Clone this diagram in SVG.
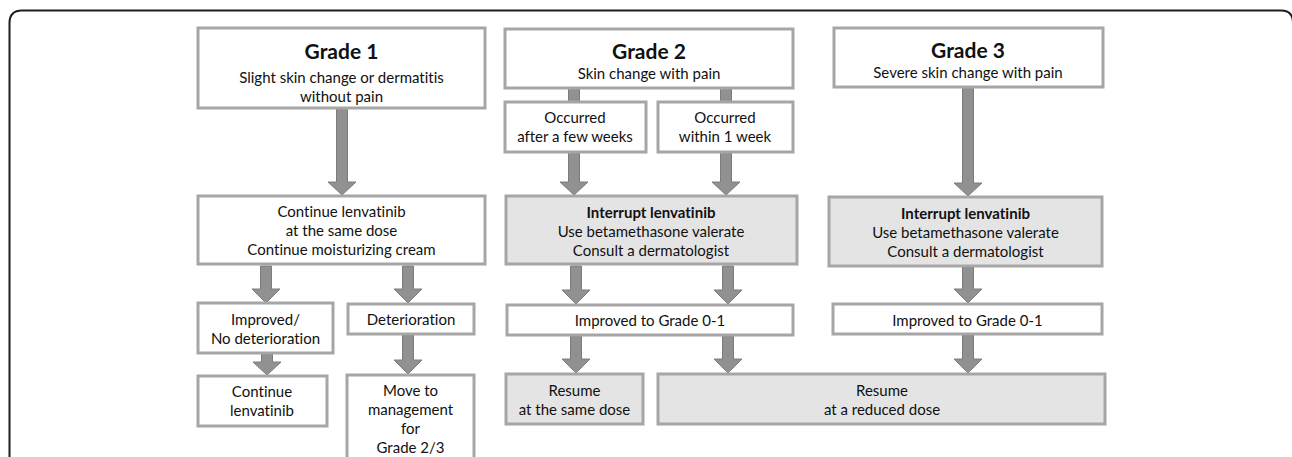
<svg xmlns="http://www.w3.org/2000/svg" width="1292" height="457" viewBox="0 0 1292 457">
<style>
.frame{fill:none;stroke:#1e1e1e;stroke-width:2}
.box{fill:#ffffff;stroke:#a6a6a6;stroke-width:3}
.gbox{fill:#e4e4e4;stroke:#a6a6a6;stroke-width:3}
.arr{fill:#919191;stroke:#7c7c7c;stroke-width:1}
text{font-family:Lato,"Liberation Sans",sans-serif;fill:#111;text-anchor:middle;dominant-baseline:central;font-variant-ligatures:none;font-feature-settings:"liga" 0}
.t{font-size:15px}
.h{font-size:21px;font-weight:bold}
.b{font-size:15px;font-weight:bold}
</style>
<rect width="1292" height="457" fill="#ffffff"/>
<path class="frame" d="M9.5 457 L9.5 23 Q9.5 10.5 22 10.5 L1281 10.5 Q1293 10.5 1293 23 L1293 457"/>

<g id="connectors">
<polygon class="arr" points="336.5,108 347.5,108 347.5,182 356,182 342,195 328,182 336.5,182"/>
<rect class="arr" x="568.5" y="88" width="11" height="14"/>
<rect class="arr" x="720.5" y="88" width="11" height="14"/>
<polygon class="arr" points="568.5,152 579.5,152 579.5,182 588,182 574,195 560,182 568.5,182"/>
<polygon class="arr" points="720.5,152 731.5,152 731.5,182 740,182 726,195 712,182 720.5,182"/>
<polygon class="arr" points="962.5,87 973.5,87 973.5,183 982,183 968,196 954,183 962.5,183"/>
<polygon class="arr" points="260.5,266 271.5,266 271.5,289 280,289 266,303 252,289 260.5,289"/>
<polygon class="arr" points="402.5,266 413.5,266 413.5,289 422,289 408,303 394,289 402.5,289"/>
<polygon class="arr" points="261.5,354 272.5,354 272.5,362 281,362 267,375 253,362 261.5,362"/>
<polygon class="arr" points="402.5,335 413.5,335 413.5,360 422,360 408,374 394,360 402.5,360"/>
<polygon class="arr" points="570.5,266 581.5,266 581.5,290 590,290 576,304 562,290 570.5,290"/>
<polygon class="arr" points="722.5,266 733.5,266 733.5,290 742,290 728,304 714,290 722.5,290"/>
<polygon class="arr" points="570.5,336 581.5,336 581.5,359 590,359 576,373 562,359 570.5,359"/>
<polygon class="arr" points="722.5,336 733.5,336 733.5,359 742,359 728,373 714,359 722.5,359"/>
<polygon class="arr" points="962.5,267 973.5,267 973.5,289 982,289 968,303 954,289 962.5,289"/>
<polygon class="arr" points="962.5,335 973.5,335 973.5,359 982,359 968,373 954,359 962.5,359"/>
</g>

<g id="grade1">
<rect class="box" x="198" y="28" width="287" height="80"/>
<text class="h" x="341.5" y="50">Grade 1</text>
<text class="t" x="341.5" y="77">Slight skin change or dermatitis</text>
<text class="t" x="341.5" y="96">without pain</text>
</g>
<g id="grade2">
<rect class="box" x="505" y="29" width="288" height="59"/>
<text class="h" x="649" y="50">Grade 2</text>
<text class="t" x="649" y="73">Skin change with pain</text>
</g>
<g id="grade3">
<rect class="box" x="834" y="28" width="269" height="59"/>
<text class="h" x="968" y="49">Grade 3</text>
<text class="t" x="968" y="72">Severe skin change with pain</text>
</g>
<g id="occ-weeks">
<rect class="box" x="505" y="102" width="141" height="50"/>
<text class="t" x="575" y="117">Occurred</text>
<text class="t" x="575" y="136">after a few weeks</text>
</g>
<g id="occ-week">
<rect class="box" x="658" y="102" width="135" height="50"/>
<text class="t" x="725" y="117">Occurred</text>
<text class="t" x="725" y="136">within 1 week</text>
</g>
<g id="continue-same">
<rect class="box" x="198" y="196" width="287" height="68"/>
<text class="t" x="341.5" y="211">Continue lenvatinib</text>
<text class="t" x="341.5" y="230">at the same dose</text>
<text class="t" x="341.5" y="249">Continue moisturizing cream</text>
</g>
<g id="interrupt2">
<rect class="gbox" x="506" y="196" width="291" height="68"/>
<text class="b" x="651" y="212">Interrupt lenvatinib</text>
<text class="t" x="651" y="231">Use betamethasone valerate</text>
<text class="t" x="651" y="250">Consult a dermatologist</text>
</g>
<g id="interrupt3">
<rect class="gbox" x="829" y="197" width="273" height="69"/>
<text class="b" x="965.5" y="213">Interrupt lenvatinib</text>
<text class="t" x="965.5" y="232">Use betamethasone valerate</text>
<text class="t" x="965.5" y="251">Consult a dermatologist</text>
</g>
<g id="improved-nodet">
<rect class="box" x="198" y="303" width="135" height="50"/>
<text class="t" x="265.5" y="319">Improved/</text>
<text class="t" x="265.5" y="338">No deterioration</text>
</g>
<g id="deterioration">
<rect class="box" x="348" y="304" width="126" height="30"/>
<text class="t" x="411" y="319">Deterioration</text>
</g>
<g id="improved2">
<rect class="box" x="507" y="305" width="286" height="30"/>
<text class="t" x="650" y="320">Improved to Grade 0-1</text>
</g>
<g id="improved3">
<rect class="box" x="833" y="304" width="269" height="30"/>
<text class="t" x="967.5" y="319.5">Improved to Grade 0-1</text>
</g>
<g id="continue-lenv">
<rect class="box" x="198" y="376" width="129" height="50"/>
<text class="t" x="262" y="391">Continue</text>
<text class="t" x="262" y="410">lenvatinib</text>
</g>
<g id="move-to">
<rect class="box" x="347" y="375" width="127" height="90"/>
<text class="t" x="410.5" y="390">Move to</text>
<text class="t" x="410.5" y="409">management</text>
<text class="t" x="410.5" y="428">for</text>
<text class="t" x="410.5" y="447">Grade 2/3</text>
</g>
<g id="resume-same">
<rect class="gbox" x="506" y="374" width="137" height="50"/>
<text class="t" x="574.5" y="390">Resume</text>
<text class="t" x="574.5" y="409">at the same dose</text>
</g>
<g id="resume-reduced">
<rect class="gbox" x="658" y="374" width="447" height="50"/>
<text class="t" x="882" y="390">Resume</text>
<text class="t" x="882" y="409">at a reduced dose</text>
</g>
</svg>
